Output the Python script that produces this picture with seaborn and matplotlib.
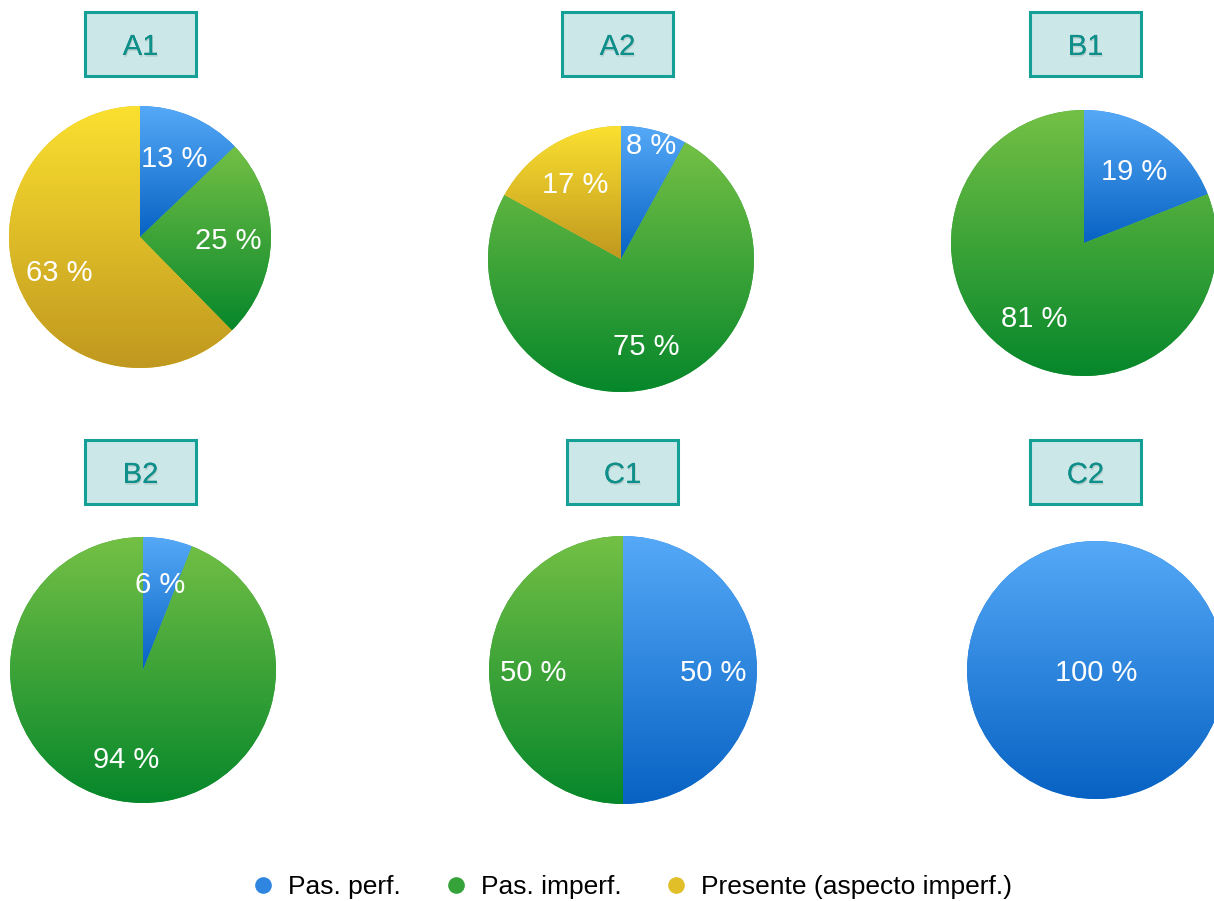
import numpy as np
import matplotlib
matplotlib.use("Agg")
import matplotlib.pyplot as plt
import seaborn as sns
from matplotlib.colors import LinearSegmentedColormap
from matplotlib.patches import Rectangle
from matplotlib.lines import Line2D
import matplotlib.patheffects as pe

# ---- data -------------------------------------------------------------
levels = ["A1", "A2", "B1", "B2", "C1", "C2"]
categories = ["Pas. perf.", "Pas. imperf.", "Presente (aspecto imperf.)"]
pas_perf = [13, 8, 19, 6, 50, 100]
pas_imperf = [25, 75, 81, 94, 50, 0]
presente = [63, 17, 0, 0, 0, 0]

# ---- styling ----------------------------------------------------------
sns.set_theme(style="white")
plt.rcParams["font.family"] = ["Liberation Sans", "DejaVu Sans"]

# vertical gradient per category: (top, bottom)
gradients = [("#55a9f7", "#0762c3"),
             ("#74c045", "#06872b"),
             ("#fbe030", "#c0981f")]
legend_colors = ["#2f86e0", "#35a33a", "#e0bf28"]

W, H = 1214, 901
# pie placement in pixels: centre x, centre y (from top), radius
pie_layout = {
    "A1": (140, 237, 131),
    "A2": (621, 259, 133),
    "B1": (1084, 243, 133),
    "B2": (143, 670, 133),
    "C1": (623, 670, 134),
    "C2": (1096, 670, 129),
}
# title boxes: centre x, centre y (from top)
title_layout = {
    "A1": (140.5, 44), "A2": (617.5, 44), "B1": (1085.5, 44),
    "B2": (140.5, 472), "C1": (622.5, 472), "C2": (1085.5, 472),
}
box_w, box_h = 111, 64
# label radius (fraction of pie radius); a few small slices sit further out
label_dist = {("A2", 0): 0.9}

fig = plt.figure(figsize=(W / 100, H / 100), dpi=100)

series = [pas_perf, pas_imperf, presente]

for i, lvl in enumerate(levels):
    cx, cy, r = pie_layout[lvl]
    ax = fig.add_axes([(cx - r) / W, 1 - (cy + r) / H, 2 * r / W, 2 * r / H])
    vals, cats = [], []
    for k, s in enumerate(series):
        if s[i] > 0:
            vals.append(s[i])
            cats.append(k)
    wedges, _ = ax.pie(vals, startangle=90, counterclock=False,
                       colors=[legend_colors[k] for k in cats],
                       wedgeprops=dict(linewidth=0), radius=1, frame=False)
    ax.set_xlim(-1, 1)
    ax.set_ylim(-1, 1)
    ax.set_axis_off()

    for j, (w, k, v) in enumerate(zip(wedges, cats, vals)):
        ext = w.get_path().get_extents()
        top, bot = gradients[k]
        cmap = LinearSegmentedColormap.from_list(f"g{i}{j}", [bot, top])
        grad = np.linspace(0, 1, 256).reshape(-1, 1)
        im = ax.imshow(grad, cmap=cmap, origin="lower", aspect="auto",
                       extent=(ext.x0, ext.x1, ext.y0, ext.y1),
                       interpolation="bilinear", zorder=2)
        im.set_clip_path(w)

        # percentage label at the slice's mid angle
        if len(vals) == 1:
            d = 0.0
        else:
            d = label_dist.get((lvl, j), 0.67)
        mid = np.deg2rad((w.theta1 + w.theta2) / 2)
        ax.annotate(f"{v:.0f} %", (d * np.cos(mid), d * np.sin(mid)),
                    xytext=(0, -7.6), textcoords="offset points",
                    ha="center", va="baseline", color="white",
                    fontsize=21, zorder=5)

    # level title box
    tx, ty = title_layout[lvl]
    fig.add_artist(Rectangle(((tx - box_w / 2) / W, 1 - (ty + box_h / 2) / H),
                             box_w / W, box_h / H, transform=fig.transFigure,
                             facecolor="#cbe7e7", edgecolor="#15a097",
                             linewidth=2.2))
    fig.text(tx / W, 1 - (ty + 11) / H, lvl, ha="center", va="baseline",
             fontsize=21, color="#0f8f8a",
             path_effects=[pe.withSimplePatchShadow(offset=(0.6, -1.2),
                                                    shadow_rgbFace="k",
                                                    alpha=0.12),
                           pe.Normal()])

handles = [Line2D([], [], marker="o", linestyle="", markersize=12,
                  markerfacecolor=c, markeredgewidth=0) for c in legend_colors]
leg = fig.legend(handles, categories, loc="center", ncol=3, frameon=False,
                 bbox_to_anchor=(633 / W, 1 - 887 / H), fontsize=19,
                 handlelength=0.7, handletextpad=0.6, columnspacing=1.72)
for t in leg.get_texts():
    t.set_color("black")

fig.savefig("out.png", dpi=100)
